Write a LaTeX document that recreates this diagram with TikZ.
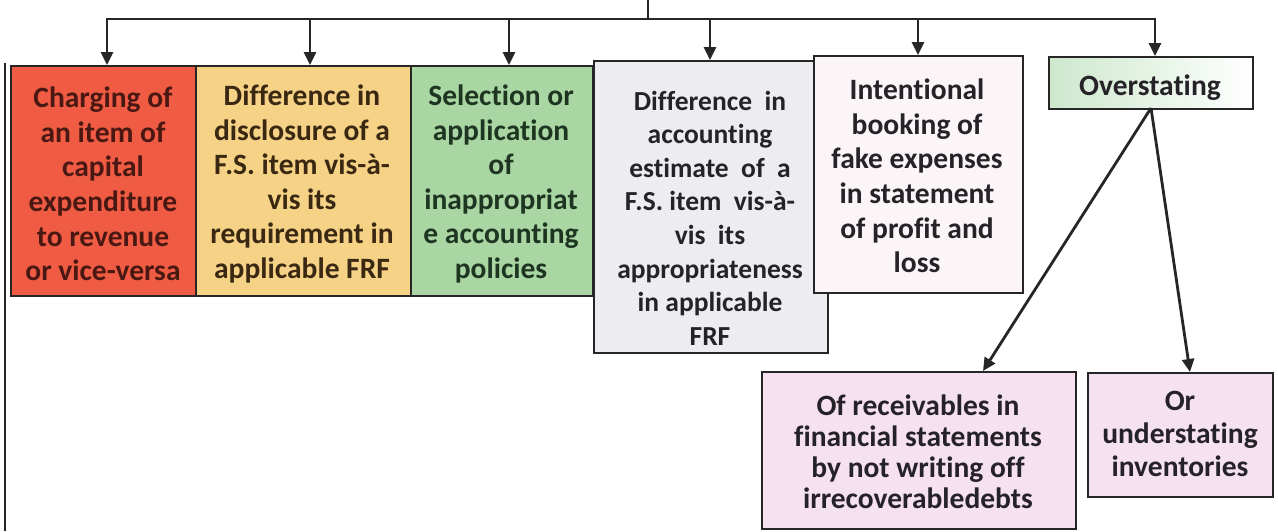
\documentclass[tikz,border=0pt]{standalone}
\usepackage{fontspec}
\setmainfont{Carlito}[Ligatures=NoCommon]
\usetikzlibrary{arrows.meta}
\definecolor{lncol}{HTML}{262626}
\definecolor{redf}{HTML}{EF5B43}
\definecolor{yelf}{HTML}{F5D286}
\definecolor{grnf}{HTML}{A9D6A2}
\definecolor{grayf}{HTML}{EDECF1}
\definecolor{whtf}{HTML}{FBF5F8}
\definecolor{pinkf}{HTML}{F6E1F1}
\definecolor{ovgrn}{HTML}{CDE8CD}
\definecolor{redt}{HTML}{4A1812}
\definecolor{yelt}{HTML}{3A2812}
\definecolor{grnt}{HTML}{1E3522}
\definecolor{darkt}{HTML}{252228}
\tikzset{
  boxshape/.style={draw=lncol, line width=2.4pt, rectangle, inner sep=0pt},
  boxtext/.style={align=center, inner sep=0pt, font=\bfseries\fontsize{29.5}{34.6}\selectfont},
  conn/.style={draw=lncol, line width=2.8pt},
  arr/.style={conn, -{Triangle[length=13pt,width=12pt]}},
}
\begin{document}
\begin{tikzpicture}[x=1pt,y=-1pt]
\useasboundingbox (0,0) rectangle (1278,531);
% boxes
\node[boxshape, fill=redf, minimum width=185pt, minimum height=230pt, anchor=north west] (b1) at (10,65) {};
\node[boxshape, fill=yelf, minimum width=215pt, minimum height=230pt, anchor=north west] (b2) at (195,65) {};
\node[boxshape, fill=grnf, minimum width=182pt, minimum height=230pt, anchor=north west] (b3) at (410,65) {};
\node[boxshape, fill=grayf, minimum width=234pt, minimum height=292pt, anchor=north west] (b4) at (593,60) {};
\node[boxshape, fill=whtf, minimum width=209pt, minimum height=237pt, anchor=north west] (b5) at (813,55) {};
\node[boxshape, left color=ovgrn, right color=white, minimum width=204pt, minimum height=52pt, anchor=north west] (b6) at (1048,56) {};
\node[boxshape, fill=pinkf, minimum width=314pt, minimum height=157pt, anchor=north west] (b7) at (761,371) {};
\node[boxshape, fill=pinkf, minimum width=185pt, minimum height=124pt, anchor=north west] (b8) at (1087,372) {};
% texts
\node[boxtext, text=redt] (t1) at (103,184) {Charging of\\an item of\\capital\\expenditure\\to revenue\\or vice-versa};
\node[boxtext, text=yelt] (t2) at (302,184) {Difference in\\disclosure of a\\F.S. item vis-à-\\vis its\\requirement in\\applicable FRF};
\node[boxtext, text=grnt] (t3) at (501,184) {Selection or\\application\\of\\inappropriat\\e accounting\\policies};
\node[boxtext, text=darkt, font=\bfseries\fontsize{27.5}{33.6}\selectfont] (t4) at (710,218) {Difference~ in\\accounting\\estimate~ of~ a\\F.S. item~ vis-à-\\vis~ its\\appropriateness\\in applicable\\FRF};
\node[boxtext, text=darkt] (t5) at (917,176) {Intentional\\booking of\\fake expenses\\in statement\\of profit and\\loss};
\node[boxtext, text=darkt] (t6) at (1150,88) {Overstating};
\node[boxtext, text=darkt, font=\bfseries\fontsize{29.5}{31}\selectfont] (t7) at (918,452) {Of receivables in\\financial statements\\by not writing off\\irrecoverabledebts};
\node[boxtext, text=darkt, font=\bfseries\fontsize{29.5}{33}\selectfont] (t8) at (1180,434) {Or\\understating\\inventories};
% connectors
\coordinate (top) at (648,0);
\coordinate (hub) at (648,19);
\coordinate (hl) at (107,19);
\coordinate (hr) at (1155,19);
\draw[conn] (top) -- (hub);
\draw[conn, line cap=rect] (hl) -- (hr);
\draw[arr] (hl) -- (b1.north -| hl);
\draw[arr] (310,19) -- (b2.north -| 310,0);
\draw[arr] (509,19) -- (b3.north -| 509,0);
\draw[arr] (710,19) -- (b4.north -| 710,0);
\draw[arr] (918,19) -- (b5.north -| 918,0);
\draw[arr] (hr) -- (b6.north -| hr);
\coordinate (ovb) at (1151,108);
\draw[arr] (ovb) -- (b7.north -| 983,0);
\draw[arr] (ovb) -- (b8.north -| 1190,0);
% left frame line
\coordinate (fl1) at (5,63);
\coordinate (fl2) at (5,531);
\draw[conn, line width=2.4pt] (fl1) -- (fl2);
\end{tikzpicture}
\end{document}
